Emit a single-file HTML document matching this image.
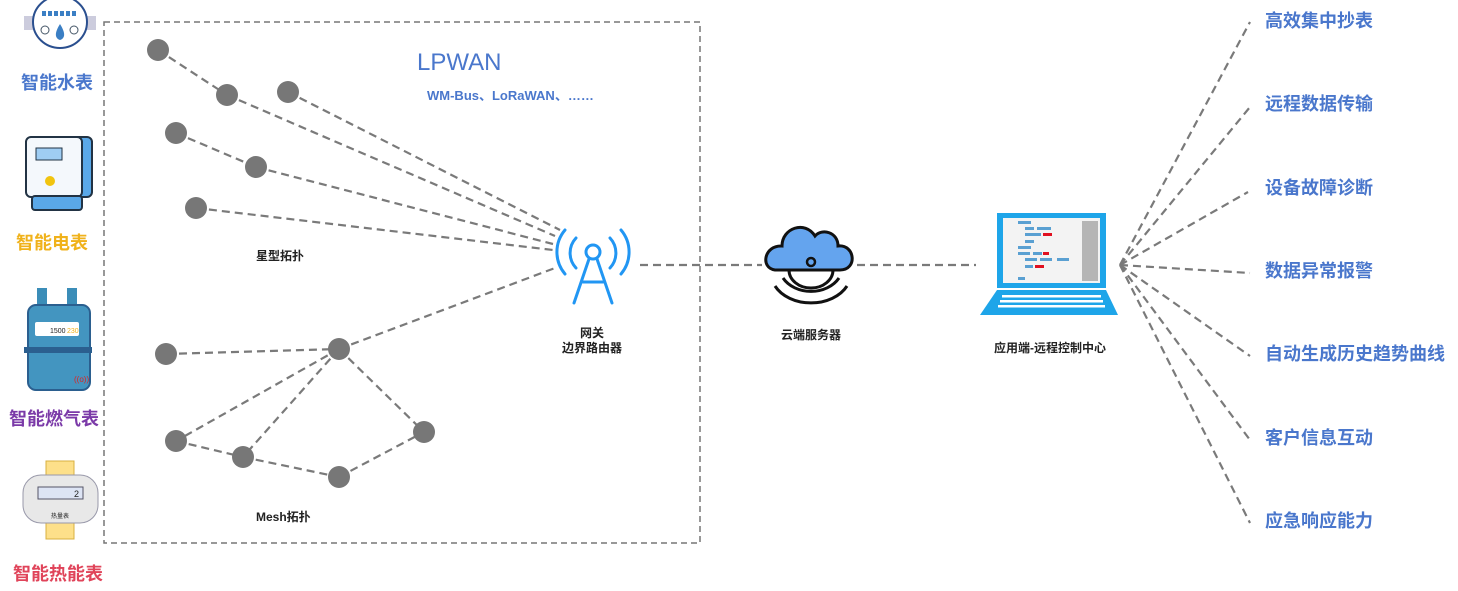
<!DOCTYPE html>
<html><head><meta charset="utf-8"><style>
body{margin:0;background:#fff;}
svg text{font-family:"Liberation Sans","Noto Sans CJK SC",sans-serif;}
</style></head><body>
<svg width="1458" height="586" viewBox="0 0 1458 586" xmlns="http://www.w3.org/2000/svg">
<rect x="0" y="0" width="1458" height="586" fill="#fff"/>
<rect x="104" y="22" width="596" height="521" fill="none" stroke="#777" stroke-width="1.5" stroke-dasharray="6,4"/>
<g stroke="#7a7a7a" stroke-width="2.2" stroke-dasharray="8,5" fill="none">
<line x1="158" y1="50" x2="227" y2="95"/><line x1="227" y1="95" x2="555" y2="236"/>
<line x1="288" y1="92" x2="560" y2="230"/>
<line x1="176" y1="133" x2="256" y2="167"/><line x1="256" y1="167" x2="553" y2="244"/>
<line x1="196" y1="208" x2="553" y2="250"/>
<line x1="339" y1="349" x2="555" y2="268"/>
<line x1="166" y1="354" x2="339" y2="349"/>
<line x1="339" y1="349" x2="176" y2="441"/>
<line x1="339" y1="349" x2="243" y2="457"/>
<line x1="339" y1="349" x2="424" y2="432"/>
<line x1="176" y1="441" x2="243" y2="457"/>
<line x1="243" y1="457" x2="339" y2="477"/>
<line x1="339" y1="477" x2="424" y2="432"/>
<line x1="640" y1="265" x2="762" y2="265"/>
<line x1="857" y1="265" x2="976" y2="265"/>
<line x1="1120" y1="265" x2="1250" y2="22"/>
<line x1="1120" y1="265" x2="1250" y2="107"/>
<line x1="1120" y1="265" x2="1248" y2="192"/>
<line x1="1120" y1="265" x2="1250" y2="273"/>
<line x1="1120" y1="265" x2="1250" y2="356"/>
<line x1="1120" y1="265" x2="1250" y2="440"/>
<line x1="1120" y1="265" x2="1250" y2="523"/>
</g>
<g fill="#777">
<circle cx="158" cy="50" r="11"/><circle cx="227" cy="95" r="11"/><circle cx="288" cy="92" r="11"/>
<circle cx="176" cy="133" r="11"/><circle cx="256" cy="167" r="11"/><circle cx="196" cy="208" r="11"/>
<circle cx="166" cy="354" r="11"/><circle cx="339" cy="349" r="11"/><circle cx="176" cy="441" r="11"/>
<circle cx="243" cy="457" r="11"/><circle cx="339" cy="477" r="11"/><circle cx="424" cy="432" r="11"/>
</g>
<text x="417" y="70" font-size="24" fill="#4a77cc">LPWAN</text>
<text x="427" y="100" font-size="13" fill="#4a77cc" font-weight="bold">WM-Bus、LoRaWAN、……</text>
<text x="256" y="260" font-size="12" fill="#222" font-weight="bold">星型拓扑</text>
<text x="256" y="521" font-size="12" fill="#222" font-weight="bold">Mesh拓扑</text>
<g stroke="#2196f3" stroke-width="3" fill="none" stroke-linecap="round">
<circle cx="593" cy="252" r="7"/>
<line x1="589" y1="259" x2="574" y2="303"/><line x1="597" y1="259" x2="612" y2="303"/>
<line x1="583" y1="282" x2="603" y2="282"/>
<path d="M576 238 A22 22 0 0 0 576 268"/><path d="M610 238 A22 22 0 0 1 610 268"/>
<path d="M565 230 A34 34 0 0 0 565 274"/><path d="M621 230 A34 34 0 0 1 621 274"/>
</g>
<text x="592" y="337" font-size="12" fill="#222" text-anchor="middle" font-weight="bold">网关</text>
<text x="592" y="352" font-size="12" fill="#222" text-anchor="middle" font-weight="bold">边界路由器</text>
<path d="M775 270 C760 268 764 245 782 246 C782 228 805 220 815 236 C822 228 838 232 838 246 C855 244 858 270 840 270 Z" fill="#64a4ee" stroke="#111" stroke-width="3"/>
<path d="M789 270 A22 18 0 0 0 833 270" fill="none" stroke="#111" stroke-width="3"/>
<circle cx="811" cy="262" r="4" fill="none" stroke="#111" stroke-width="2.5"/>
<path d="M783 278 A32 26 0 0 0 839 278" fill="none" stroke="#111" stroke-width="3"/>
<path d="M775 286 A40 30 0 0 0 847 286" fill="none" stroke="#111" stroke-width="3"/>
<text x="811" y="339" font-size="12" fill="#222" text-anchor="middle" font-weight="bold">云端服务器</text>
<rect x="997" y="213" width="109" height="75" fill="#1ea5e9"/>
<rect x="1003" y="218" width="97" height="65" fill="#f3f3f3"/>
<g fill="#5aa0d2"><rect x="1018" y="221" width="13" height="3"/><rect x="1025" y="227" width="9" height="3"/><rect x="1037" y="227" width="14" height="3"/><rect x="1025" y="233" width="16" height="3"/><rect x="1025" y="240" width="9" height="3"/><rect x="1018" y="246" width="13" height="3"/><rect x="1018" y="252" width="12" height="3"/><rect x="1033" y="252" width="9" height="3"/><rect x="1025" y="258" width="12" height="3"/><rect x="1040" y="258" width="12" height="3"/><rect x="1057" y="258" width="12" height="3"/><rect x="1025" y="265" width="8" height="3"/><rect x="1018" y="277" width="7" height="3"/></g>
<g fill="#e01020"><rect x="1043" y="233" width="9" height="3"/><rect x="1043" y="252" width="6" height="3"/><rect x="1035" y="265" width="9" height="3"/></g>
<g fill="#b5b5b5"><rect x="1082" y="221" width="16" height="60"/></g>
<path d="M997 290 L1106 290 L1118 315 L980 315 Z" fill="#1ea5e9"/>
<g fill="#fff"><rect x="1002" y="295" width="99" height="2.5"/><rect x="1000" y="300" width="103" height="2.5"/><rect x="998" y="305" width="107" height="2.5"/></g>
<text x="1050" y="352" font-size="12" fill="#222" text-anchor="middle" font-weight="bold">应用端-远程控制中心</text>
<g font-size="18" font-weight="bold" fill="#4a77cc">
<text x="1265" y="27">高效集中抄表</text>
<text x="1265" y="110">远程数据传输</text>
<text x="1265" y="194">设备故障诊断</text>
<text x="1265" y="277">数据异常报警</text>
<text x="1265" y="360">自动生成历史趋势曲线</text>
<text x="1265" y="444">客户信息互动</text>
<text x="1265" y="527">应急响应能力</text>
</g>
<rect x="24" y="16" width="10" height="14" fill="#ccd"/><rect x="86" y="16" width="10" height="14" fill="#ccd"/>
<ellipse cx="60" cy="22" rx="27" ry="26" fill="#fff" stroke="#2a4f8f" stroke-width="2"/>
<g fill="#3b7fc4"><rect x="42" y="11" width="4" height="5"/><rect x="48" y="11" width="4" height="5"/><rect x="54" y="11" width="4" height="5"/><rect x="60" y="11" width="4" height="5"/><rect x="66" y="11" width="4" height="5"/><rect x="72" y="11" width="4" height="5"/></g>
<path d="M60 24 C55 32 54 38 60 40 C66 38 65 32 60 24Z" fill="#3b7fc4"/>
<circle cx="45" cy="30" r="4" fill="none" stroke="#456"/><circle cx="74" cy="30" r="4" fill="none" stroke="#456"/>
<text x="57" y="89" font-size="18" font-weight="bold" fill="#4a77cc" text-anchor="middle">智能水表</text>
<rect x="30" y="137" width="62" height="60" rx="5" fill="#5aa8e8" stroke="#234" stroke-width="2"/>
<rect x="26" y="137" width="56" height="60" rx="5" fill="#f4f8fc" stroke="#234" stroke-width="2"/>
<rect x="36" y="148" width="26" height="12" fill="#9fcdf3" stroke="#234"/>
<circle cx="50" cy="181" r="5" fill="#f1c40f"/>
<rect x="32" y="196" width="50" height="14" rx="3" fill="#5aa8e8" stroke="#234" stroke-width="2"/>
<text x="52" y="249" font-size="18" font-weight="bold" fill="#f0b21b" text-anchor="middle">智能电表</text>
<rect x="37" y="288" width="10" height="18" fill="#3b8db8"/><rect x="67" y="288" width="10" height="18" fill="#3b8db8"/>
<rect x="28" y="305" width="62" height="85" rx="8" fill="#4395c0" stroke="#2b5f8f" stroke-width="2"/>
<rect x="24" y="347" width="68" height="6" fill="#2b5f8f"/>
<rect x="35" y="322" width="44" height="14" rx="2" fill="#fff"/>
<text x="50" y="333" font-size="7" fill="#222">1500</text><text x="67" y="333" font-size="7" fill="#f0b21b">230</text>
<text x="74" y="382" font-size="8" fill="#e02020">((o))</text>
<text x="54" y="425" font-size="18" font-weight="bold" fill="#7b3aa8" text-anchor="middle">智能燃气表</text>
<rect x="46" y="461" width="28" height="78" fill="#fde08a" stroke="#d8b040"/>
<rect x="23" y="475" width="75" height="48" rx="18" fill="#e8e8e8" stroke="#99a" stroke-width="1"/>
<rect x="38" y="487" width="45" height="12" fill="#dde4f4" stroke="#556"/>
<text x="79" y="497" font-size="9" fill="#222" text-anchor="end">2</text>
<text x="60" y="518" font-size="6" fill="#222" text-anchor="middle">热量表</text>
<text x="58" y="580" font-size="18" font-weight="bold" fill="#e0445a" text-anchor="middle">智能热能表</text>
</svg>
</body></html>
